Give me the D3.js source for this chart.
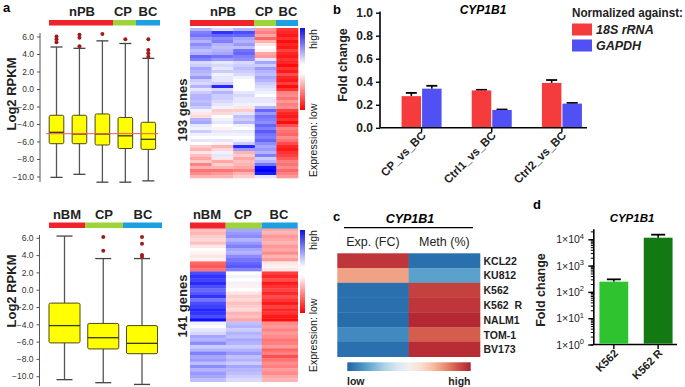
<!DOCTYPE html>
<html>
<head>
<meta charset="utf-8">
<script src="https://cdn.jsdelivr.net/npm/d3@7"></script>
<style>
  body { margin: 0; background: #fff; }
  svg { font-family: "Liberation Sans", Arial, sans-serif; }
  .bold { font-weight: bold; }
</style>
</head>
<body>
<svg id="fig" width="685" height="387"></svg>
<script>
// ---- panel a, top box plot (Log2 RPKM, 5 samples)
const topSamples = ["nPB1", "nPB2", "nPB3", "CP", "BC"];
const topHi  = [4.8, 4.65, 5.5, 5.2, 3.5];
const topQ3  = [-3.0, -3.0, -2.85, -3.25, -3.8];
const topMed = [-4.95, -5.15, -5.15, -5.35, -5.75];
const topQ1  = [-6.25, -6.25, -6.4, -6.8, -6.9];
const topLo  = [-10.1, -9.75, -10.65, -10.65, -10.5];
const topOut = [[6.0, 5.7, 5.35], [6.2, 5.85, 4.9], [6.3], [5.7], [5.7, 4.45, 4.1, 3.7]];
const topRef = -5.1;

// ---- panel a, bottom box plot (3 groups)
const botSamples = ["nBM", "CP", "BC"];
const botHi  = [6.2, 3.6, 3.6];
const botQ3  = [-1.55, -3.9, -4.15];
const botMed = [-4.15, -5.55, -6.2];
const botQ1  = [-6.15, -6.85, -7.4];
const botLo  = [-10.4, -10.75, -10.95];
const botOut = [[], [6.1, 4.5], [6.1, 5.3, 4.0, 3.8]];

const groupsTop = ["nPB", "CP", "BC"];
const groupsBot = ["nBM", "CP", "BC"];
const groupColors = ["#f0222a", "#9ed33a", "#1e9fe0"];
const yTicks = [6, 4, 2, 0, -2, -4, -6, -8, -10];

// ---- panel a heatmaps (positive = high/blue, negative = low/red)
const heatTopCols = ["nPB1", "nPB2", "nPB3", "CP", "BC"];
const heatTop = [
  [0.3,0.5,0.55,0.4,0.3,0.45,0.35,0.25,0.3,0.6,0.5,0.15,0.2,0.35,0.3,0.25,0.4,0.2,0.15,0.3,0.1,0.2,0.3,0.3,0.25,0.3,0.2,0.05,-0.1,-0.15,0.3,0.35,0.1,0.05,0.2,0.05,0,0.1,0,-0.2,-0.3,-0.1,-0.25,-0.35,-0.2,-0.5,-0.3,-0.55,-0.45,-0.3],
  [0.15,0.8,0.6,0.45,0.5,0.3,0.25,0.3,0.35,0.55,0.4,0.1,0.15,0.1,0.2,0.05,0.1,0.1,0.2,0.85,0.15,0.3,0.2,0.2,0.15,0.1,0.05,-0.2,-0.15,0,0.05,0.1,0,-0.05,0.1,0.05,0,0.1,-0.05,-0.3,-0.15,0.05,0.1,-0.1,-0.35,-0.2,-0.3,-0.55,-0.4,-0.3],
  [0.3,0.7,0.6,0.35,0.3,0.4,0.25,0.55,0.6,0.5,0.45,0.15,0.2,0.25,0.2,0.15,0.05,0,0,0,0,0.1,0.15,0.1,0.1,0.05,-0.1,-0.2,0.1,0.25,0.2,0.3,0.05,0,0.1,0.05,0,0.05,0.2,0.85,0.4,-0.3,-0.2,-0.35,-0.25,-0.3,-0.35,-0.5,-0.3,-0.2],
  [-0.4,-0.5,-0.35,-0.6,-0.3,-0.1,0,-0.05,-0.35,-0.4,0.1,0.35,0.2,0.4,0.3,0.25,0.35,0.3,0.2,0.15,0.1,0.05,0,0.1,0.1,0.05,0.3,0.6,0.4,0.55,0.5,0.45,0.6,0.5,0.65,0.55,0.5,0.6,0.45,0.35,0.4,0.3,0.5,0.2,0.3,0.55,0.95,1,0.9,0.1],
  [-0.8,-0.85,-0.9,-0.8,-0.95,-0.85,-0.9,-0.75,-0.85,-0.9,-0.8,-0.85,-0.95,-0.8,-0.9,-0.7,-0.85,-0.9,-0.75,-0.95,-0.8,-0.5,-0.45,-0.55,-0.4,-0.5,-0.45,-0.75,-0.85,-0.9,-0.8,-0.95,-0.7,-0.5,-0.55,-0.6,-0.45,-0.55,-0.7,-0.85,-0.9,-0.8,-0.75,-0.65,-0.5,-0.55,-0.45,-0.6,-0.5,-0.4]
];
const heatBotCols = ["nBM", "CP", "BC"];
const heatBot = [
  [-0.25,-0.3,-0.2,-0.15,-0.25,-0.1,0,-0.05,-0.1,-0.05,-0.6,-0.65,-0.55,0.7,0.8,0.75,0.85,0.7,0.6,0.65,0.8,0.55,0.7,0.75,0.85,0.8,0.7,0.95,0.05,0,0.1,0.15,0.35,0.3,0.45,0.2,0.3,0.5,0.35,0.4,0.25,0.45,0.3,0.4,0.35,0.25],
  [0.35,0.4,0.45,0.3,0.4,0.5,0.35,0.3,0.45,0.55,0.6,0.65,0.5,0,0.05,0,0.05,-0.05,0,-0.1,-0.2,-0.15,-0.25,-0.2,-0.15,-0.3,-0.25,-0.35,0.25,0.3,0.2,0.3,0.25,0.35,0.3,0.2,0.3,0.4,0.25,0.3,0.2,0.35,0.3,0.25,0.2,0.15],
  [-0.35,-0.3,-0.4,-0.35,-0.3,-0.4,-0.35,-0.45,-0.3,-0.4,-0.1,-0.05,-0.1,-0.75,-0.85,-0.7,-0.9,-0.8,-0.75,-0.85,-0.7,-0.8,-0.9,-0.75,-0.85,-0.8,-0.9,-0.95,-0.45,-0.4,-0.5,-0.4,-0.45,-0.55,-0.5,-0.4,-0.6,-0.5,-0.7,-0.55,-0.45,-0.5,-0.4,-0.45,-0.35,-0.3]
];

// ---- panel b
const bGroups = ["CP_vs_BC", "Ctrl1_vs_BC", "Ctrl2_vs_BC"];
const bSeries = ["18S rRNA", "GAPDH"];
const b18S = [0.275, 0.325, 0.39];
const b18SErr = [0.028, 0.005, 0.025];
const bGAPDH = [0.34, 0.155, 0.21];
const bGAPDHErr = [0.025, 0.004, 0.006];
const bColors = ["#f53b3b", "#5050f5"];

// ---- panel c
const cLines = ["KCL22", "KU812", "K562", "K562  R", "NALM1", "TOM-1", "BV173"];
const cCols = ["Exp. (FC)", "Meth (%)"];
const cExp  = [0.95, 0.75, 0.03, 0.03, 0.02, 0.1, 0.03];
const cMeth = [0.03, 0.16, 0.93, 0.95, 0.98, 0.88, 0.97];

// ---- panel d
const dCells = ["K562", "K562 R"];
const dFold = [245, 11500];
const dErrTop = [300, 15000];
const dColors = ["#2fc42f", "#137a13"];
const dTicks = [1, 10, 100, 1000, 10000];

const svg = d3.select("#fig");
svg.append("rect").attr("width", 685).attr("height", 387).attr("fill", "#fff");

function panelLetter(t, x, y) {
  svg.append("text").attr("x", x).attr("y", y).attr("class", "bold")
    .attr("font-size", 13).text(t);
}

// ---------- box plots ----------
function boxPlot(o) {
  const y = d3.scaleLinear().domain([0, 6]).range([o.y0, o.y0 - 6 * o.k]);
  const x = d3.scalePoint().domain(o.names).range(o.xr);
  const g = svg.append("g");
  const ax = g.append("g").attr("transform", `translate(${o.axisX},0)`)
    .call(d3.axisLeft(y).tickValues(yTicks).tickSize(3).tickSizeOuter(0));
  ax.select(".domain").attr("stroke", "#555").attr("d", `M0,${o.axTop}V${o.axBot}`);
  ax.selectAll(".tick line").attr("stroke", "#555");
  ax.selectAll("text").attr("font-size", 8.5).attr("fill", "#333")
    .attr("font-family", "Liberation Sans, Arial, sans-serif");

  o.names.forEach((n, i) => {
    const cx = x(n), w = o.bw;
    g.append("line").attr("x1", cx).attr("x2", cx).attr("y1", y(o.hi[i])).attr("y2", y(o.lo[i]))
      .attr("stroke", "#555").attr("stroke-width", 1.3);
    [o.hi[i], o.lo[i]].forEach(v => g.append("line")
      .attr("x1", cx - o.cap).attr("x2", cx + o.cap).attr("y1", y(v)).attr("y2", y(v))
      .attr("stroke", "#444").attr("stroke-width", 1.3));
    g.append("rect").attr("x", cx - w / 2).attr("width", w)
      .attr("y", y(o.q3[i])).attr("height", y(o.q1[i]) - y(o.q3[i]))
      .attr("rx", 1.5).attr("fill", "#ffff00").attr("stroke", "#4a4a1a").attr("stroke-width", 1);
    g.append("line").attr("x1", cx - w / 2).attr("x2", cx + w / 2)
      .attr("y1", y(o.med[i])).attr("y2", y(o.med[i])).attr("stroke", "#3a3a10").attr("stroke-width", 1.3);
    o.out[i].forEach(v => g.append("circle").attr("cx", cx).attr("cy", y(v)).attr("r", 2)
      .attr("fill", "#a31a1a"));
  });
  if (o.ref !== undefined) {
    g.append("line").attr("x1", o.refX[0]).attr("x2", o.refX[1])
      .attr("y1", y(o.ref)).attr("y2", y(o.ref)).attr("stroke", "#f06060").attr("stroke-width", 1.3)
      .attr("opacity", 0.85);
  }
  // colour bar with group labels
  o.bar.forEach((b, i) => {
    svg.append("rect").attr("x", b[0]).attr("width", b[1] - b[0])
      .attr("y", o.barY).attr("height", 5.5).attr("fill", groupColors[i]);
    svg.append("text").attr("x", o.labX[i]).attr("y", o.barY - 4)
      .attr("text-anchor", "middle").attr("class", "bold").attr("font-size", 13)
      .attr("fill", "#222").text(o.groups[i]);
  });
  svg.append("text").attr("transform", `translate(${o.titleX},${o.titleY}) rotate(-90)`)
    .attr("text-anchor", "middle").attr("class", "bold").attr("font-size", 13)
    .attr("fill", "#222").text("Log2 RPKM");
}

boxPlot({
  names: topSamples, hi: topHi, q3: topQ3, med: topMed, q1: topQ1, lo: topLo, out: topOut,
  y0: 89, k: 8.75, xr: [56.5, 148.3], bw: 14.6, cap: 6, axisX: 40, axTop: 33, axBot: 182,
  ref: topRef, refX: [46, 158],
  bar: [[49, 113], [113, 136], [136, 160]], labX: [82, 123, 148], barY: 20, groups: groupsTop,
  titleX: 16, titleY: 94
});
boxPlot({
  names: botSamples, hi: botHi, q3: botQ3, med: botMed, q1: botQ1, lo: botLo, out: botOut,
  y0: 289.7, k: 8.65, xr: [64.5, 142], bw: 31, cap: 8, axisX: 39.5, axTop: 235, axBot: 386,
  bar: [[49, 85], [85, 123], [123, 162]], labX: [67, 104, 143], barY: 222.5, groups: groupsBot,
  titleX: 16, titleY: 291
});

// ---------- heatmaps ----------
const heatColor = d3.scaleLinear().domain([-1, 0, 1]).range(["#ff0000", "#ffffff", "#0000ff"]);
const defs = svg.append("defs");
const lg = defs.append("linearGradient").attr("id", "hlg").attr("x1", 0).attr("x2", 0).attr("y1", 0).attr("y2", 1);
[[0, "#1010e0"], [0.45, "#ffffff"], [0.55, "#ffffff"], [1, "#ff0000"]].forEach(s =>
  lg.append("stop").attr("offset", s[0]).attr("stop-color", s[1]));

function heatmap(o) {
  const nRows = o.data[0].length;
  const x = d3.scaleBand().domain(o.cols).range(o.xr);
  const y = d3.scaleBand().domain(d3.range(nRows)).range(o.yr);
  o.data.forEach((col, j) => {
    svg.append("g").selectAll("rect").data(col).join("rect")
      .attr("x", x(o.cols[j])).attr("width", x.bandwidth() + 0.3)
      .attr("y", (d, i) => y(i)).attr("height", y.bandwidth() + 0.3)
      .attr("fill", d => heatColor(d));
  });
  o.bar.forEach((b, i) => {
    svg.append("rect").attr("x", b[0]).attr("width", b[1] - b[0])
      .attr("y", o.barY).attr("height", 6).attr("fill", groupColors[i]);
    svg.append("text").attr("x", o.labX[i]).attr("y", o.barY - 4)
      .attr("text-anchor", "middle").attr("class", "bold").attr("font-size", 13)
      .attr("fill", "#222").text(o.groups[i]);
  });
  svg.append("rect").attr("x", 300).attr("width", 5).attr("y", o.leg[0])
    .attr("height", o.leg[1] - o.leg[0]).attr("fill", "url(#hlg)");
  svg.append("text").attr("transform", `translate(317,${o.highY}) rotate(-90)`)
    .attr("font-size", 10.5).attr("fill", "#222").text("high");
  svg.append("text").attr("transform", `translate(317,${o.lowY}) rotate(-90)`)
    .attr("font-size", 10.5).attr("fill", "#222").text("Expression: low");
  svg.append("text").attr("transform", `translate(187,${o.genesY}) rotate(-90)`)
    .attr("text-anchor", "middle").attr("class", "bold").attr("font-size", 13)
    .attr("fill", "#222").text(o.genes);
}

heatmap({
  cols: heatTopCols, data: heatTop, xr: [190, 298], yr: [28, 178],
  bar: [[190, 254], [254, 276], [276, 298]], labX: [223, 264, 288], barY: 20, groups: groupsTop,
  leg: [28, 110], highY: 49, lowY: 177, genes: "193 genes", genesY: 110
});
heatmap({
  cols: heatBotCols, data: heatBot, xr: [190, 297.7], yr: [228, 381.7],
  bar: [[190, 225.7], [225.7, 261.7], [261.7, 297.7]], labX: [207, 243, 279], barY: 222.5, groups: groupsBot,
  leg: [230, 313], highY: 250, lowY: 372, genes: "141 genes", genesY: 306
});

// ---------- panel b ----------
panelLetter("b", 333, 14);
{
  const y = d3.scaleLinear().domain([0, 1]).range([127.8, 12.7]);
  const x0 = d3.scaleBand().domain(bGroups).range([386.5, 597]);
  const x1 = d3.scaleBand().domain(bSeries).range([-20, 20]).paddingInner(0.05);
  const vals = [b18S, bGAPDH], errs = [b18SErr, bGAPDHErr];
  const g = svg.append("g");
  const ya = g.append("g").attr("transform", "translate(380,0)")
    .call(d3.axisLeft(y).tickValues([0, 0.2, 0.4, 0.6, 0.8, 1]).tickFormat(d3.format(".1f")).tickSize(4).tickPadding(3).tickSizeOuter(0));
  ya.select(".domain").attr("stroke-width", 1.6).attr("d", "M0,127.8V11.5");
  ya.selectAll(".tick line").attr("stroke-width", 1.4);
  ya.selectAll("text").attr("font-size", 12).attr("font-weight", "bold").attr("fill", "#222")
    .attr("font-family", "Liberation Sans, Arial, sans-serif");
  g.append("line").attr("x1", 380).attr("x2", 587).attr("y1", 127.8).attr("y2", 127.8)
    .attr("stroke", "#000").attr("stroke-width", 1.6);
  bGroups.forEach((grp, i) => {
    const cx = x0(grp) + x0.bandwidth() / 2;
    g.append("line").attr("x1", cx).attr("x2", cx).attr("y1", 127.8).attr("y2", 132).attr("stroke", "#000").attr("stroke-width", 1.4);
    bSeries.forEach((s, k) => {
      const bx = cx + x1(s), v = vals[k][i], e = errs[k][i];
      g.append("line").attr("x1", bx + x1.bandwidth() / 2).attr("x2", bx + x1.bandwidth() / 2)
        .attr("y1", y(v)).attr("y2", y(v + e)).attr("stroke", "#000").attr("stroke-width", 1.6);
      g.append("line").attr("x1", bx + x1.bandwidth() / 2 - 5.5).attr("x2", bx + x1.bandwidth() / 2 + 5.5)
        .attr("y1", y(v + e)).attr("y2", y(v + e)).attr("stroke", "#000").attr("stroke-width", 1.8);
      g.append("rect").attr("x", bx).attr("width", x1.bandwidth())
        .attr("y", y(v)).attr("height", y(0) - y(v) - 0.8).attr("fill", bColors[k]);
    });
    g.append("text").attr("transform", `translate(${cx + 5},${136}) rotate(-45)`)
      .attr("text-anchor", "end").attr("font-size", 11.5).attr("font-weight", "bold")
      .attr("fill", "#222").text(grp);
  });
  svg.append("text").attr("x", 483).attr("y", 14).attr("text-anchor", "middle")
    .attr("font-size", 12).attr("font-weight", "bold").attr("font-style", "italic").text("CYP1B1");
  svg.append("text").attr("transform", "translate(347,65) rotate(-90)").attr("text-anchor", "middle")
    .attr("font-size", 12.5).attr("font-weight", "bold").attr("fill", "#222").text("Fold change");
  svg.append("text").attr("x", 572).attr("y", 17).attr("font-size", 12).attr("font-weight", "bold")
    .attr("textLength", 111).attr("lengthAdjust", "spacingAndGlyphs")
    .attr("fill", "#222").text("Normalized against:");
  bSeries.forEach((s, k) => {
    svg.append("rect").attr("x", 572).attr("y", 23.5 + k * 16).attr("width", 20).attr("height", 12)
      .attr("fill", bColors[k]);
    svg.append("text").attr("x", 596).attr("y", 34 + k * 16).attr("font-size", 12.5).attr("font-weight", "bold")
      .attr("font-style", "italic").attr("fill", "#222").text(s);
  });
}

// ---------- panel c ----------
panelLetter("c", 333, 221);
{
  const cColor = v => d3.interpolateRdBu(0.9 - v * 0.8);
  const x = d3.scaleBand().domain(cCols).range([337.3, 480]);
  const y = d3.scaleBand().domain(cLines).range([253.3, 356.7]);
  const cols = [cExp, cMeth];
  cCols.forEach((c, j) => {
    svg.append("g").selectAll("rect").data(cols[j]).join("rect")
      .attr("x", x(c)).attr("width", x.bandwidth() + 0.3)
      .attr("y", (d, i) => y(cLines[i])).attr("height", y.bandwidth() + 0.3)
      .attr("fill", d => cColor(d));
    svg.append("text").attr("x", x(c) + x.bandwidth() / 2).attr("y", 246).attr("text-anchor", "middle")
      .attr("font-size", 12.5).attr("fill", "#222").text(c);
  });
  cLines.forEach(l => svg.append("text").attr("x", 483.5).attr("y", y(l) + y.bandwidth() / 2 + 4)
    .attr("font-size", 10.5).attr("font-weight", "bold").attr("fill", "#222")
    .attr("xml:space", "preserve").text(l));
  svg.append("text").attr("x", 410).attr("y", 222.5).attr("text-anchor", "middle")
    .attr("font-size", 12.5).attr("font-weight", "bold").attr("font-style", "italic").text("CYP1B1");
  svg.append("line").attr("x1", 344).attr("x2", 473).attr("y1", 227.7).attr("y2", 227.7)
    .attr("stroke", "#000").attr("stroke-width", 1.3);
  const cg = defs.append("linearGradient").attr("id", "cgrad");
  d3.range(0, 1.01, 0.1).forEach(t => cg.append("stop").attr("offset", t).attr("stop-color", cColor(t)));
  svg.append("rect").attr("x", 347.3).attr("y", 362.3).attr("width", 123.4).attr("height", 8.7).attr("fill", "url(#cgrad)");
  svg.append("text").attr("x", 347).attr("y", 385).attr("font-size", 10.5).attr("font-weight", "bold")
    .attr("fill", "#222").text("low");
  svg.append("text").attr("x", 470.5).attr("y", 385).attr("text-anchor", "end").attr("font-size", 10.5)
    .attr("font-weight", "bold").attr("fill", "#222").text("high");
}

// ---------- panel d ----------
panelLetter("d", 533, 209);
{
  const y = d3.scaleLog().domain([1, Math.pow(10, 4.4)]).range([344.5, 344.5 - 4.4 * 26.3]);
  const x = d3.scaleBand().domain(dCells).range([595, 677]).paddingInner(0.35).paddingOuter(0.1);
  const g = svg.append("g");
  const minor = g.append("g").attr("transform", "translate(593.3,0)")
    .call(d3.axisLeft(y).ticks(20).tickFormat("").tickSize(2.5).tickSizeOuter(0));
  minor.select(".domain").attr("stroke-width", 1.6);
  const major = g.append("g").attr("transform", "translate(593.3,0)")
    .call(d3.axisLeft(y).tickValues(dTicks).tickFormat("").tickSize(5));
  major.select(".domain").remove();
  major.selectAll(".tick line").attr("stroke-width", 1.4);
  dTicks.forEach(t => {
    const tx = g.append("text").attr("x", 584).attr("y", y(t) + 4).attr("text-anchor", "end")
      .attr("font-size", 10.5).attr("fill", "#222");
    tx.append("tspan").text("1×10");
    tx.append("tspan").attr("dy", -4.5).attr("font-size", 7.5).text(Math.round(Math.log10(t)));
  });
  g.append("line").attr("x1", 593.3).attr("x2", 677).attr("y1", 344.5).attr("y2", 344.5)
    .attr("stroke", "#000").attr("stroke-width", 1.6);
  dCells.forEach((c, i) => {
    const cx = x(c) + x.bandwidth() / 2;
    g.append("line").attr("x1", cx).attr("x2", cx).attr("y1", 344.5).attr("y2", 349).attr("stroke", "#000").attr("stroke-width", 1.4);
    g.append("line").attr("x1", cx).attr("x2", cx).attr("y1", y(dFold[i])).attr("y2", y(dErrTop[i]))
      .attr("stroke", "#000").attr("stroke-width", 1.6);
    g.append("line").attr("x1", cx - 7).attr("x2", cx + 7).attr("y1", y(dErrTop[i])).attr("y2", y(dErrTop[i]))
      .attr("stroke", "#000").attr("stroke-width", 1.8);
    g.append("rect").attr("x", x(c)).attr("width", x.bandwidth()).attr("y", y(dFold[i]))
      .attr("height", y(1) - y(dFold[i]) - 0.8).attr("fill", dColors[i]);
    g.append("text").attr("transform", `translate(${cx + 5},354) rotate(-45)`)
      .attr("text-anchor", "end").attr("font-size", 11).attr("font-weight", "bold")
      .attr("fill", "#222").text(c);
  });
  svg.append("text").attr("x", 632).attr("y", 222).attr("text-anchor", "middle")
    .attr("font-size", 11.5).attr("font-weight", "bold").attr("font-style", "italic").text("CYP1B1");
  svg.append("text").attr("transform", "translate(545,290) rotate(-90)").attr("text-anchor", "middle")
    .attr("font-size", 12.5).attr("font-weight", "bold").attr("fill", "#222").text("Fold change");
}

panelLetter("a", 3, 12);
</script>
</body>
</html>
